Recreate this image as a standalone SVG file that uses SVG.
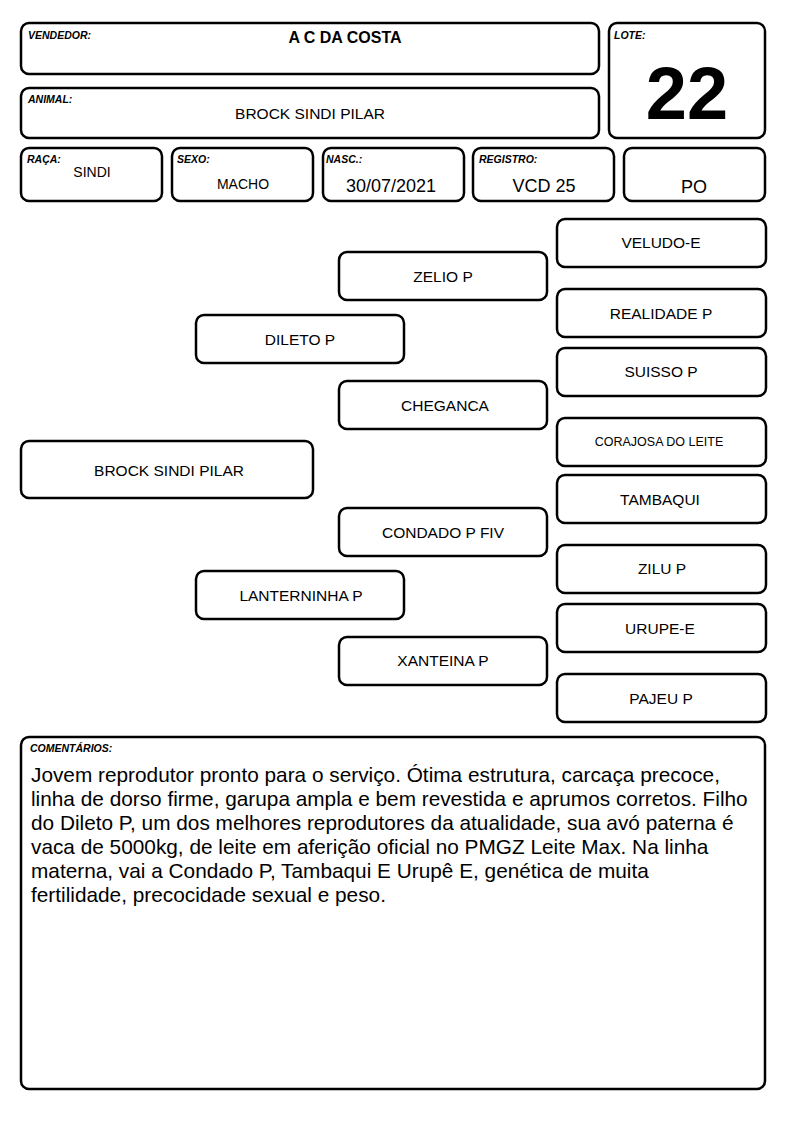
<svg xmlns="http://www.w3.org/2000/svg" width="794" height="1123" viewBox="0 0 794 1123">
<style>
.b{fill:#fff;stroke:#000;stroke-width:2.5}
.l{font-family:"Liberation Sans",Arial,sans-serif;font-size:10.5px;font-weight:bold;font-style:italic;fill:#000}
.t{font-family:"Liberation Sans",Arial,sans-serif;font-size:15.5px;fill:#000;text-anchor:middle}
.v{font-family:"Liberation Sans",Arial,sans-serif;font-size:18px;fill:#000;text-anchor:middle}
.c{font-family:"Liberation Sans",Arial,sans-serif;font-size:20.8px;fill:#000}
</style>
<rect width="794" height="1123" fill="#fff"/>
<g id="vendedor"><rect class="b" x="21" y="23" width="578" height="51" rx="8"/><text class="l" x="28" y="39">VENDEDOR:</text><text class="t" x="345" y="43" font-weight="bold" style="font-size:16px">A C DA COSTA</text></g>
<g id="animal"><rect class="b" x="21" y="88" width="578" height="50" rx="8"/><text class="l" x="28" y="103">ANIMAL:</text><text class="t" x="310" y="119">BROCK SINDI PILAR</text></g>
<g id="lote"><rect class="b" x="609" y="23" width="156" height="115" rx="8"/><text class="l" x="614" y="39">LOTE:</text><text x="687" y="119" font-family="Liberation Sans,Arial,sans-serif" font-weight="bold" font-size="74" text-anchor="middle">22</text></g>
<g id="raca"><rect class="b" x="21" y="148" width="141" height="53" rx="8"/><text class="l" x="27" y="163">RAÇA:</text><text class="t" x="92" y="177" style="font-size:14px">SINDI</text></g>
<g id="sexo"><rect class="b" x="172" y="148" width="141" height="53" rx="8"/><text class="l" x="177" y="163">SEXO:</text><text class="t" x="243" y="189" style="font-size:14px">MACHO</text></g>
<g id="nasc"><rect class="b" x="323" y="148" width="141" height="53" rx="8"/><text class="l" x="326" y="163">NASC.:</text><text class="v" x="391" y="192">30/07/2021</text></g>
<g id="registro"><rect class="b" x="473" y="148" width="141" height="53" rx="8"/><text class="l" x="479" y="163">REGISTRO:</text><text class="v" x="544" y="192">VCD 25</text></g>
<g id="po"><rect class="b" x="624" y="148" width="141" height="53" rx="8"/><text class="v" x="694" y="193">PO</text></g>
<g id="connectors"></g>
<g id="veludo"><rect class="b" x="557" y="219" width="209" height="48" rx="8"/><text class="t" x="661" y="248">VELUDO-E</text></g>
<g id="zelio"><rect class="b" x="339" y="252" width="208" height="48" rx="8"/><text class="t" x="443" y="282">ZELIO P</text></g>
<g id="realidade"><rect class="b" x="557" y="289" width="209" height="48" rx="8"/><text class="t" x="661" y="319">REALIDADE P</text></g>
<g id="dileto"><rect class="b" x="196" y="315" width="208" height="48" rx="8"/><text class="t" x="300" y="345">DILETO P</text></g>
<g id="suisso"><rect class="b" x="557" y="348" width="209" height="48" rx="8"/><text class="t" x="661" y="377">SUISSO P</text></g>
<g id="cheganca"><rect class="b" x="339" y="381" width="208" height="48" rx="8"/><text class="t" x="445" y="411">CHEGANCA</text></g>
<g id="corajosa"><rect class="b" x="557" y="418" width="209" height="48" rx="8"/><text class="t" x="659" y="446" style="font-size:12.5px">CORAJOSA DO LEITE</text></g>
<g id="brock"><rect class="b" x="21" y="441" width="292" height="57" rx="8"/><text class="t" x="169" y="476">BROCK SINDI PILAR</text></g>
<g id="tambaqui"><rect class="b" x="557" y="475" width="209" height="48" rx="8"/><text class="t" x="660" y="505">TAMBAQUI</text></g>
<g id="condado"><rect class="b" x="339" y="508" width="208" height="48" rx="8"/><text class="t" x="443" y="538">CONDADO P FIV</text></g>
<g id="zilu"><rect class="b" x="557" y="545" width="209" height="48" rx="8"/><text class="t" x="662" y="574">ZILU P</text></g>
<g id="lanterninha"><rect class="b" x="196" y="571" width="208" height="48" rx="8"/><text class="t" x="301" y="601">LANTERNINHA P</text></g>
<g id="urupe"><rect class="b" x="557" y="604" width="209" height="48" rx="8"/><text class="t" x="660" y="634">URUPE-E</text></g>
<g id="xanteina"><rect class="b" x="339" y="637" width="208" height="48" rx="8"/><text class="t" x="443" y="666">XANTEINA P</text></g>
<g id="pajeu"><rect class="b" x="557" y="674" width="209" height="48" rx="8"/><text class="t" x="661" y="704">PAJEU P</text></g>
<g id="comentarios"><rect class="b" x="21" y="737" width="744" height="352" rx="8"/><text class="l" x="30" y="752">COMENTÁRIOS:</text>
<text class="c"><tspan x="31" y="782">Jovem reprodutor pronto para o serviço. Ótima estrutura, carcaça precoce,</tspan><tspan x="31" y="806">linha de dorso firme, garupa ampla e bem revestida e aprumos corretos. Filho</tspan><tspan x="31" y="830">do Dileto P, um dos melhores reprodutores da atualidade, sua avó paterna é</tspan><tspan x="31" y="854">vaca de 5000kg, de leite em aferição oficial no PMGZ Leite Max. Na linha</tspan><tspan x="31" y="878">materna, vai a Condado P, Tambaqui E Urupê E, genética de muita</tspan><tspan x="31" y="902">fertilidade, precocidade sexual e peso.</tspan></text></g>
</svg>
